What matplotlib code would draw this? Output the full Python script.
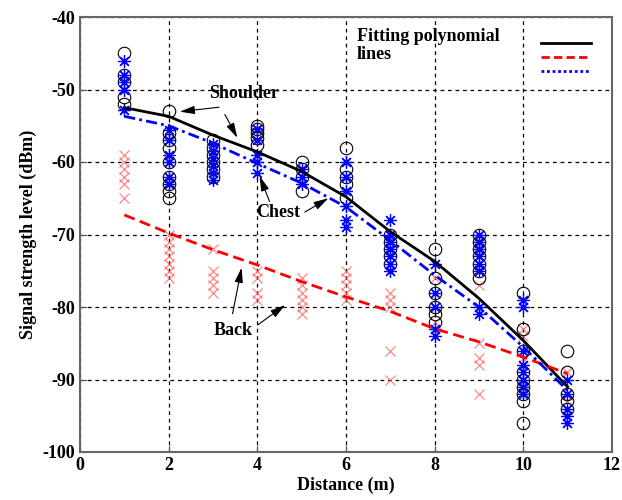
import numpy as np
import matplotlib.pyplot as plt
from matplotlib.lines import Line2D

plt.rcParams['font.family'] = ['Liberation Serif', 'DejaVu Serif']
plt.rcParams['font.weight'] = 'bold'
plt.rcParams['axes.unicode_minus'] = False

distance = [1, 2, 3, 4, 5, 6, 7, 8, 9, 10, 11]

# measured signal levels (dBm) per distance
shoulder = [
    [-45, -51, -52, -49, -48],
    [-53, -56, -57, -58, -60, -62, -63, -64, -65],
    [-57, -58, -59, -60, -61, -62],
    [-55, -55.5, -56, -56.7, -57.7],
    [-60, -61, -62, -64],
    [-58, -61, -62, -63, -65],
    [-70, -71, -72, -73, -74],
    [-72, -76, -78, -80, -82, -81],
    [-70, -71, -72, -73, -74, -75, -76],
    [-78, -83, -86, -89, -90, -91, -92, -93, -96],
    [-86, -89, -92, -93, -94],
]
chest = [
    [-46, -48, -49, -50, -52.8],
    [-55.6, -57, -59, -60, -62, -63],
    [-57.5, -58.5, -59.5, -60.5, -61.5, -62.5],
    [-55.5, -57, -59, -60, -61.5],
    [-61, -62, -63],
    [-60, -62, -64, -66, -68, -69],
    [-68, -70, -71, -72, -73, -74, -75],
    [-74, -78, -80, -83, -84],
    [-70, -71, -72, -73, -74, -75, -80, -81],
    [-79, -80, -86, -88, -89, -90, -91, -92],
    [-90, -92, -94, -95, -96],
]
back = [
    [-59, -60, -61, -62, -63, -65],
    [-70, -71, -72, -73, -74, -75, -76],
    [-72, -75, -76, -77, -78],
    [-75, -76, -78, -79],
    [-76, -77, -78, -79, -80, -81],
    [-75, -76, -77, -78, -79],
    [-78, -79, -80, -86, -90],
    [-76, -80, -82],
    [-77, -85, -87, -88, -92],
    [-83, -84, -87],
    [-89, -92, -93],
]

# fitted polynomial values
fit_shoulder = [-52.5, -53.7, -56.3, -58.6, -61.3, -64.8, -69.6, -73.7, -78.8, -84.6, -91]
fit_chest = [-53.7, -55, -57.4, -60.2, -62.9, -66.2, -70.8, -75.6, -80, -85.5, -91.5]
fit_back = [-67.3, -69.8, -72.1, -74.2, -76.5, -78.6, -80.6, -83, -84.8, -86.9, -89.2]


def flat(groups):
    xs, ys = [], []
    for d, vals in zip(distance, groups):
        xs += [d] * len(vals)
        ys += vals
    return xs, ys


fig = plt.figure(figsize=(6.22, 5.0), dpi=100)
ax = fig.add_axes([0.1286, 0.096, 0.855, 0.87])

bx, by = flat(back)
ax.plot(bx, by, 'x', color='#ff6060', alpha=0.75, ms=7, mew=0.9, ls='none')
sx, sy = flat(shoulder)
ax.plot(sx, sy, 'o', mfc='none', mec='k', ms=9, mew=0.8, ls='none')
cx, cy = flat(chest)
ax.plot(cx, cy, marker=(8, 2, 0), color='b', ms=9, mew=0.9, ls='none')

ax.plot(distance, fit_shoulder, '-', color='k', lw=2)
ax.plot(distance, fit_back, '--', color='r', lw=2, dashes=(4, 2))
ax.plot(distance, fit_chest, '-.', color='b', lw=2, dashes=(4, 1.5, 1, 1.5))

ax.set_xlim(0, 12)
ax.set_ylim(-100, -40)
ax.set_xticks(range(0, 13, 2))
ax.set_yticks(range(-100, -39, 10))
ax.grid(True, ls=(0, (3, 3)), color='k', lw=0.9)
ax.tick_params(direction='in', labelsize=13, length=5, color='#555555')
for s in ax.spines.values():
    s.set_color('#666666')
    s.set_linewidth(1.5)

ax.set_xlabel('Distance (m)', fontsize=13, fontweight='bold', labelpad=2)
ax.set_ylabel('Signal strength level (dBm)', fontsize=13, fontweight='bold', labelpad=4)

# legend with unlabeled samples + caption text
handles = [Line2D([], [], color='k', lw=2),
           Line2D([], [], color='r', lw=2, ls='--', dashes=(3, 1.5)),
           Line2D([], [], color='b', lw=2, ls=':', dashes=(1, 1))]
ax.legend(handles, ['', '', ''], loc='upper right', frameon=False,
          handlelength=3.6, labelspacing=0.05, handletextpad=0, bbox_to_anchor=(0.985, 0.98))
ax.text(0.52, 0.975, 'Fitting polynomial\nlines', transform=ax.transAxes,
        fontsize=13, fontweight='bold', va='top', linespacing=1.1)

arrow = dict(arrowstyle='-|>,head_width=0.25,head_length=0.9', color='k', lw=0.8)
ax.text(3.69, -50.6, 'Shoulder', fontsize=13, fontweight='bold', ha='center', va='center')
ax.annotate('', xy=(2.19, -53.1), xytext=(3.2, -52.4), arrowprops=arrow)
ax.annotate('', xy=(3.58, -57.0), xytext=(3.24, -53.1), arrowprops=arrow)

ax.text(4.48, -66.9, 'Chest', fontsize=13, fontweight='bold', ha='center', va='center')
ax.annotate('', xy=(4.03, -61.6), xytext=(4.3, -65.8), arrowprops=arrow)
ax.annotate('', xy=(5.66, -64.8), xytext=(5.02, -67.1), arrowprops=arrow)

ax.text(3.46, -83.2, 'Back', fontsize=13, fontweight='bold', ha='center', va='center')
ax.annotate('', xy=(3.66, -74.2), xytext=(3.43, -81.3), arrowprops=arrow)
ax.annotate('', xy=(4.68, -79.5), xytext=(3.96, -82.7), arrowprops=arrow)

fig.savefig('out.png', dpi=100)
